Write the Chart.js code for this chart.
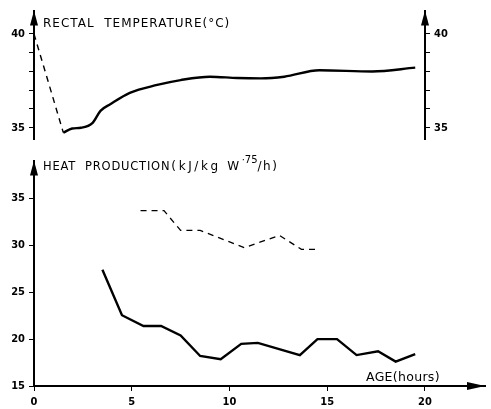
<!DOCTYPE html>
<html>
<head>
<meta charset="utf-8">
<script src="https://cdn.jsdelivr.net/npm/chart.js@4"></script>
<style>
  html, body { margin: 0; padding: 0; background: #fff; }
  #wrap { position: relative; width: 491px; height: 409px; }
  #wrap canvas { position: absolute; left: 0; }
</style>
</head>
<body>
<div id="wrap">
  <canvas id="tempChart" width="491" height="150" style="top:0"></canvas>
  <canvas id="heatChart" width="491" height="259" style="top:150px"></canvas>
</div>
<script>
// rectal temperature (°C) against age (hours)
const tempDashHours = [0, 1.5];
const tempDashValues = [40, 34.74];
const tempHours = [1.5, 1.95, 2.4, 3.0, 3.4, 3.9, 4.9, 6.3, 7.5, 9.0, 10.4, 11.6, 12.8, 14.6, 17.3, 19.5];
const tempValues = [34.74, 34.96, 35.0, 35.26, 35.9, 36.25, 36.86, 37.28, 37.54, 37.72, 37.65, 37.63, 37.72, 38.06, 38.0, 38.2];

// heat production (kJ/kg W.75/h)
const heatHours = [3.5, 4.5, 5.6, 6.5, 7.5, 8.5, 9.55, 10.6, 11.45, 13.6, 14.5, 15.5, 16.5, 17.6, 18.5, 19.5];
const heatValues = [27.4, 22.55, 21.4, 21.4, 20.4, 18.2, 17.85, 19.5, 19.6, 18.3, 20.0, 20.0, 18.3, 18.7, 17.6, 18.4];
const heatDashHours = [5.45, 6.65, 7.5, 8.5, 10.76, 12.56, 13.68, 14.62];
const heatDashValues = [33.7, 33.7, 31.6, 31.6, 29.76, 31.06, 29.57, 29.57];

// tick labels
const tempTicks = [35, 36, 37, 38, 39, 40];
const tempTickLabels = ['35', '', '', '', '', '40'];
const heatTicks = [15, 20, 25, 30, 35];
const ageTicks = [0, 5, 10, 15, 20];

const tickFont = { family: "'DejaVu Sans Condensed', 'Liberation Sans Narrow', 'DejaVu Sans'", size: 11, weight: 'bold' };
const labelFont = "'DejaVu Sans', sans-serif";

function pairs(xs, ys) {
    return xs.map((x, i) => ({ x: x, y: ys[i] }));
}

function arrowUp(ctx, x, y) {
    ctx.beginPath();
    ctx.moveTo(x, y);
    ctx.lineTo(x - 4, y + 15);
    ctx.lineTo(x + 4, y + 15);
    ctx.closePath();
    ctx.fill();
}

function arrowRight(ctx, x, y) {
    ctx.beginPath();
    ctx.moveTo(x, y);
    ctx.lineTo(x - 18, y - 4);
    ctx.lineTo(x - 18, y + 4);
    ctx.closePath();
    ctx.fill();
}

// draws text piece by piece, returns the x after it
function put(ctx, text, x, y, size, spacing) {
    ctx.font = size + 'px ' + labelFont;
    ctx.letterSpacing = spacing + 'px';
    ctx.fillText(text, x, y);
    return x + ctx.measureText(text).width;
}

function yAxis(position, min, max, ticks, labels, width) {
    return {
        type: 'linear',
        position: position,
        min: min,
        max: max,
        afterFit: s => { s.width = width; },
        afterBuildTicks: s => { s.ticks = ticks.map(v => ({ value: v })); },
        ticks: {
            font: tickFont,
            color: '#000',
            padding: 4,
            callback: v => labels[ticks.indexOf(v)]
        },
        grid: { drawOnChartArea: false, drawTicks: true, tickLength: 5, color: '#000', lineWidth: 1 },
        border: { color: '#000', width: 2 }
    };
}

// top panel
new Chart(document.getElementById('tempChart').getContext('2d'), {
    type: 'line',
    data: {
        datasets: [{
            data: pairs(tempDashHours, tempDashValues),
            borderColor: '#000',
            borderWidth: 1.4,
            borderDash: [6, 5],
            pointRadius: 0
        }, {
            data: pairs(tempHours, tempValues),
            borderColor: '#000',
            borderWidth: 2.4,
            cubicInterpolationMode: 'monotone',
            pointRadius: 0
        }]
    },
    options: {
        responsive: false,
        animation: false,
        layout: { padding: { top: 10, bottom: 7, left: 0, right: 0 } },
        plugins: { legend: { display: false }, tooltip: { enabled: false } },
        scales: {
            x: { type: 'linear', min: 0, max: 20, display: false },
            y: yAxis('left', 34.38, 41.24, tempTicks, tempTickLabels, 34),
            yR: yAxis('right', 34.38, 41.24, tempTicks, tempTickLabels, 66)
        }
    },
    plugins: [{
        id: 'tempDecor',
        afterDraw(chart) {
            const ctx = chart.ctx;
            const a = chart.chartArea;
            ctx.save();
            ctx.fillStyle = '#000';
            arrowUp(ctx, a.left, a.top);
            arrowUp(ctx, a.right, a.top);
            ctx.textBaseline = 'alphabetic';
            put(ctx, 'RECTAL  TEMPERATURE(°C)', 43, 27, 12, 1);
            ctx.restore();
        }
    }]
});

// bottom panel
new Chart(document.getElementById('heatChart').getContext('2d'), {
    type: 'line',
    data: {
        datasets: [{
            data: pairs(heatDashHours, heatDashValues),
            borderColor: '#000',
            borderWidth: 1.3,
            borderDash: [6, 5],
            pointRadius: 0
        }, {
            data: pairs(heatHours, heatValues),
            borderColor: '#000',
            borderWidth: 2.4,
            pointRadius: 0
        }]
    },
    options: {
        responsive: false,
        animation: false,
        layout: { padding: { top: 10, bottom: 0, left: 0, right: 6 } },
        plugins: { legend: { display: false }, tooltip: { enabled: false } },
        scales: {
            x: {
                type: 'linear',
                min: 0,
                max: 23.07,
                afterFit: s => { s.height = 23; },
                afterBuildTicks: s => { s.ticks = ageTicks.map(v => ({ value: v })); },
                ticks: { font: tickFont, color: '#000', padding: 5, maxRotation: 0 },
                grid: { drawOnChartArea: false, drawTicks: true, tickLength: 5, color: '#000', lineWidth: 1 },
                border: { color: '#000', width: 2 }
            },
            y: yAxis('left', 15, 39.04, heatTicks, heatTicks.map(String), 34)
        }
    },
    plugins: [{
        id: 'heatDecor',
        afterDraw(chart) {
            const ctx = chart.ctx;
            const a = chart.chartArea;
            ctx.save();
            ctx.fillStyle = '#000';
            arrowUp(ctx, a.left, a.top);
            arrowRight(ctx, a.right, a.bottom);
            ctx.textBaseline = 'alphabetic';
            let x = put(ctx, 'HEAT  PRODUCTION', 43, 20, 11.5, 0.8);
            x = put(ctx, '(kJ/kg W', x + 1, 20, 12, 2.6);
            x = put(ctx, '·75', x, 13, 10, 0);
            put(ctx, '/h)', x, 20, 12, 1.5);
            put(ctx, 'AGE(hours)', 366, 231, 12.5, 0.3);
            ctx.restore();
        }
    }]
});
</script>
</body>
</html>
